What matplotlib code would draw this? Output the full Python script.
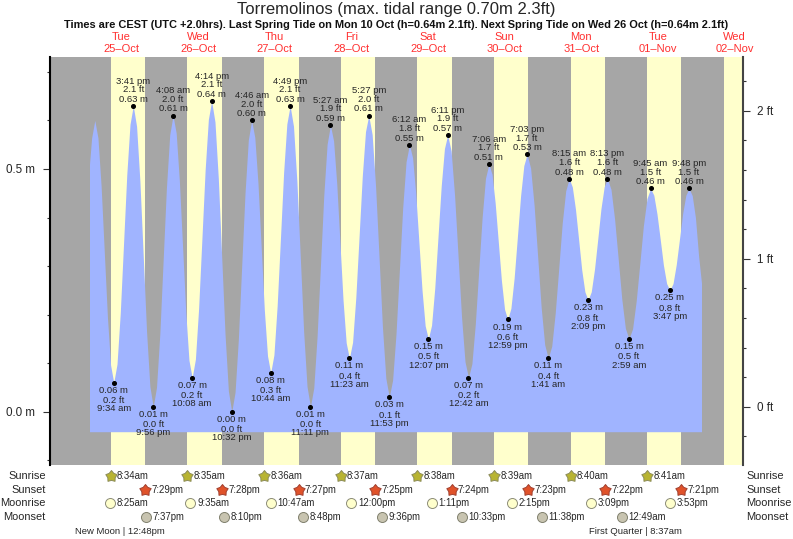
import matplotlib
matplotlib.use("Agg")
import matplotlib.pyplot as plt
from matplotlib.path import Path

plt.rcParams['font.family'] = ['Liberation Sans', 'DejaVu Sans']

# tide curve, hours since 25 Oct 00:00 and metres
tide_t = [1.97, 2.64, 3.63,
          4.62, 5.61, 6.60, 7.59, 8.58, 9.57,
          10.59, 11.61, 12.63, 13.65, 14.66, 15.68,
          16.72, 17.76, 18.81, 19.85, 20.89, 21.93,
          22.96, 24.0, 25.03, 26.06, 27.1, 28.13,
          29.13, 30.13, 31.13, 32.13, 33.13, 34.13,
          35.15, 36.16, 37.18, 38.2, 39.21, 40.23,
          41.28, 42.33, 43.38, 44.43, 45.48, 46.53,
          47.57, 48.61, 49.65, 50.69, 51.73, 52.77,
          53.76, 54.76, 55.75, 56.74, 57.74, 58.73,
          59.75, 60.76, 61.78, 62.79, 63.8, 64.82,
          65.88, 66.94, 68.0, 69.06, 70.12, 71.18,
          72.23, 73.27, 74.32, 75.36, 76.41, 77.45,
          78.44, 79.43, 80.42, 81.4, 82.39, 83.38,
          84.39, 85.4, 86.42, 87.43, 88.44, 89.45,
          90.52, 91.59, 92.67, 93.74, 94.81, 95.88,
          96.93, 97.99, 99.04, 100.09, 101.15, 102.2,
          103.19, 104.17, 105.16, 106.15, 107.13, 108.12,
          109.13, 110.14, 111.15, 112.16, 113.17, 114.18,
          115.27, 116.35, 117.44, 118.53, 119.61, 120.7,
          121.77, 122.83, 123.9, 124.97, 126.03, 127.1,
          128.08, 129.06, 130.04, 131.02, 132.0, 132.98,
          133.99, 135.0, 136.02, 137.03, 138.04, 139.05,
          140.16, 141.26, 142.37, 143.47, 144.58, 145.68,
          146.78, 147.87, 148.97, 150.06, 151.16, 152.25,
          153.23, 154.22, 155.2, 156.18, 157.17, 158.15,
          159.16, 160.17, 161.19, 162.2, 163.21, 164.22,
          165.35, 166.47, 167.6, 168.73, 169.85, 170.98,
          172.11, 173.24, 174.37, 175.49, 176.62, 177.75,
          178.76, 179.76, 180.77, 181.77, 182.78, 183.78,
          184.78, 185.79, 186.79, 187.79, 188.8, 189.8,
          190.8, 191.8, 192.8, 193.7]
tide_h = [0.51, 0.564, 0.60,
          0.564, 0.465, 0.33, 0.195, 0.096, 0.06,
          0.098, 0.203, 0.345, 0.488, 0.592, 0.63,
          0.588, 0.475, 0.32, 0.165, 0.052, 0.01,
          0.05, 0.16, 0.31, 0.46, 0.57, 0.61,
          0.574, 0.475, 0.34, 0.205, 0.106, 0.07,
          0.108, 0.213, 0.355, 0.498, 0.602, 0.64,
          0.597, 0.48, 0.32, 0.16, 0.043, 0.0,
          0.04, 0.15, 0.30, 0.45, 0.56, 0.60,
          0.565, 0.47, 0.34, 0.21, 0.115, 0.08,
          0.117, 0.218, 0.355, 0.493, 0.593, 0.63,
          0.588, 0.475, 0.32, 0.165, 0.052, 0.01,
          0.049, 0.155, 0.30, 0.445, 0.551, 0.59,
          0.558, 0.47, 0.35, 0.23, 0.142, 0.11,
          0.143, 0.235, 0.36, 0.485, 0.577, 0.61,
          0.571, 0.465, 0.32, 0.175, 0.069, 0.03,
          0.065, 0.16, 0.29, 0.42, 0.515, 0.55,
          0.523, 0.45, 0.35, 0.25, 0.177, 0.15,
          0.178, 0.255, 0.36, 0.465, 0.542, 0.57,
          0.537, 0.445, 0.32, 0.195, 0.103, 0.07,
          0.099, 0.18, 0.29, 0.40, 0.481, 0.51,
          0.489, 0.43, 0.35, 0.27, 0.211, 0.19,
          0.213, 0.275, 0.36, 0.445, 0.507, 0.53,
          0.502, 0.425, 0.32, 0.215, 0.138, 0.11,
          0.135, 0.203, 0.295, 0.388, 0.455, 0.48,
          0.463, 0.417, 0.355, 0.292, 0.247, 0.23,
          0.247, 0.293, 0.355, 0.418, 0.463, 0.48,
          0.458, 0.397, 0.315, 0.232, 0.172, 0.15,
          0.171, 0.228, 0.305, 0.383, 0.439, 0.46,
          0.446, 0.407, 0.355, 0.302, 0.264, 0.25,
          0.264, 0.303, 0.355, 0.408, 0.446, 0.46,
          0.445, 0.40, 0.32, 0.265]

# labelled highs and lows
ext_day = [0, 0, 0, 1, 1, 1, 1, 2, 2, 2, 2, 3, 3, 3, 3, 4, 4, 4, 5, 5, 5, 5, 6, 6, 6, 6, 7, 7, 7, 7]
ext_time = ['9:34 am', '3:41 pm', '9:56 pm', '4:08 am', '10:08 am', '4:14 pm', '10:32 pm',
            '4:46 am', '10:44 am', '4:49 pm', '11:11 pm', '5:27 am', '11:23 am', '5:27 pm', '11:53 pm',
            '6:12 am', '12:07 pm', '6:11 pm', '12:42 am', '7:06 am', '12:59 pm', '7:03 pm',
            '1:41 am', '8:15 am', '2:09 pm', '8:13 pm', '2:59 am', '9:45 am', '3:47 pm', '9:48 pm']
ext_m = [0.06, 0.63, 0.01, 0.61, 0.07, 0.64, 0.00, 0.60, 0.08, 0.63, 0.01, 0.59, 0.11, 0.61, 0.03,
         0.55, 0.15, 0.57, 0.07, 0.51, 0.19, 0.53, 0.11, 0.48, 0.23, 0.48, 0.15, 0.46, 0.25, 0.46]
ext_ft = [0.2, 2.1, 0.0, 2.0, 0.2, 2.1, 0.0, 2.0, 0.3, 2.1, 0.0, 1.9, 0.4, 2.0, 0.1,
          1.8, 0.5, 1.9, 0.2, 1.7, 0.6, 1.7, 0.4, 1.6, 0.8, 1.6, 0.5, 1.5, 0.8, 1.5]

day_names = ['Tue', 'Wed', 'Thu', 'Fri', 'Sat', 'Sun', 'Mon', 'Tue', 'Wed']
day_dates = ['25–Oct', '26–Oct', '27–Oct', '28–Oct', '29–Oct', '30–Oct', '31–Oct', '01–Nov', '02–Nov']

sunrise = ['8:34am', '8:35am', '8:36am', '8:37am', '8:38am', '8:39am', '8:40am', '8:41am']
sunset = ['7:29pm', '7:28pm', '7:27pm', '7:25pm', '7:24pm', '7:23pm', '7:22pm', '7:21pm']
moonrise = ['8:25am', '9:35am', '10:47am', '12:00pm', '1:11pm', '2:15pm', '3:09pm', '3:53pm']
moonset = ['7:37pm', '8:10pm', '8:48pm', '9:36pm', '10:33pm', '11:38pm', '12:49am']
moonset_day = [0, 1, 2, 3, 4, 5, 7]

GREY = '#a6a6a6'
YELLOW = '#ffffcc'
BLUE = '#a0b4ff'
RED = '#ff3030'
TXT = '#262626'


def hours(day, stamp):
    # '3:41 pm' -> hours since 25 Oct 00:00
    stamp = stamp.replace(' ', '')
    h, m = stamp[:-2].split(':')
    h = int(h) % 12
    if stamp.endswith('pm'):
        h += 12
    return day * 24 + h + int(m) / 60


W, H = 793, 539
fig = plt.figure(figsize=(W / 100, H / 100), dpi=100)
ax = fig.add_axes([49.5 / W, 1 - 465.3 / H, (743 - 49.5) / W, (465.3 - 56.7) / H])
ax.set_xlim(-10.56, 206.7)
ax.set_ylim(-0.1104, 0.7313)
ax.set_facecolor(GREY)

# daylight bands, the last one runs off the edge
for i in range(8):
    ax.axvspan(hours(i, sunrise[i]), hours(i, sunset[i]), color=YELLOW, lw=0, zorder=1)
ax.axvspan(hours(8, '8:42am'), 206.7, color=YELLOW, lw=0, zorder=1)

ax.fill_between(tide_t, tide_h, -0.0412, color=BLUE, lw=0, zorder=2)

for d, t, m, ft in zip(ext_day, ext_time, ext_m, ext_ft):
    x = hours(d, t)
    ax.plot(x, m, 'o', color='black', ms=2.6, zorder=4)
    # highs carry the label above the dot, lows below it
    if m > 0.3:
        rows = [(t, 17.8), (f'{ft:.1f} ft', 11.8), (f'{m:.2f} m', 4.8)]
    else:
        rows = [(f'{m:.2f} m', -5.5), (f'{ft:.1f} ft', -13), (t, -18.8)]
    for s, dy in rows:
        ax.annotate(s, (x, m), xytext=(0, dy), textcoords='offset points', ha='center', va='center',
                    fontsize=6.8, color=TXT, zorder=5, annotation_clip=False)

ax.set_xticks([])
ax.set_yticks([0.0, 0.5])
ax.set_yticklabels(['0.0 m', '0.5 m'], fontsize=8.4, color=TXT)
ax.set_yticks([-0.1, 0.1, 0.2, 0.3, 0.4, 0.6, 0.7], minor=True)
ax.tick_params(axis='y', which='major', length=5, width=0.8, pad=5.5, color='#333333')
ax.tick_params(axis='y', which='minor', length=2.4, width=0.8, color='#333333')
for side in ['top', 'bottom']:
    ax.spines[side].set_visible(False)
ax.spines['left'].set_linewidth(1.5)
ax.spines['right'].set_visible(False)

ax2 = ax.twinx()
ax2.set_ylim((406.7 - 465.3) / 148, (406.7 - 56.7) / 148)
ax2.set_yticks([0, 1, 2])
ax2.set_yticklabels(['0 ft', '1 ft', '2 ft'], fontsize=8.4, color=TXT)
ax2.set_yticks([-0.2, 0.2, 0.4, 0.6, 0.8, 1.2, 1.4, 1.6, 1.8, 2.2], minor=True)
ax2.tick_params(axis='y', which='major', length=5, width=0.8, pad=5, color='#333333')
ax2.tick_params(axis='y', which='minor', length=2.4, width=0.8, color='#333333')
for side in ['top', 'bottom', 'left']:
    ax2.spines[side].set_visible(False)
ax2.spines['right'].set_linewidth(1.5)
ax2.spines['right'].set_color('#444444')

fig.text(396.5 / W, 1 - 9.5 / H, 'Torremolinos (max. tidal range 0.70m 2.3ft)', fontsize=12,
         ha='center', va='center', color=TXT)
fig.text(396 / W, 1 - 25 / H,
         'Times are CEST (UTC +2.0hrs). Last Spring Tide on Mon 10 Oct (h=0.64m 2.1ft). '
         'Next Spring Tide on Wed 26 Oct (h=0.64m 2.1ft)',
         fontsize=7.9, fontweight='bold', ha='center', va='center', color='#111111')

trans = ax.get_xaxis_transform()


def below(px):
    # pixel row in the picture -> axes fraction
    return (465.3 - px) / (465.3 - 56.7)


for i in range(9):
    ax.text(i * 24 + 12, below(37.5), day_names[i], transform=trans, ha='center', va='center',
            fontsize=8, color=RED, clip_on=False)
    ax.text(i * 24 + 12, below(49), day_dates[i], transform=trans, ha='center', va='center',
            fontsize=8, color=RED, clip_on=False)

star = Path.unit_regular_star(5, 0.65)
row_y = [476, 490, 503, 517]
row_names = ['Sunrise', 'Sunset', 'Moonrise', 'Moonset']
for px, name in zip(row_y, row_names):
    fig.text(45.7 / W, 1 - px / H, name, fontsize=7.9, ha='right', va='center', color=TXT)
    fig.text(746.5 / W, 1 - px / H, name, fontsize=7.9, ha='left', va='center', color=TXT)


def mark_row(days, stamps, px, marker, size, face, edge, gap):
    for d, s in zip(days, stamps):
        x = hours(d, s)
        ax.plot(x, below(px), marker=marker, ms=size, mfc=face, mec=edge, mew=0.7,
                transform=trans, clip_on=False, zorder=6)
        ax.annotate(s, (x, below(px)), xycoords=trans, xytext=(gap, 0), textcoords='offset points',
                    ha='left', va='center', fontsize=6.9, color=TXT, annotation_clip=False)


mark_row(range(8), sunrise, 476, star, 8.6, '#b8b432', '#8c8c5a', 4.6)
mark_row(range(8), sunset, 490, star, 8.6, '#e0522a', '#a04030', 4.6)
mark_row(range(8), moonrise, 503, 'o', 7.2, '#ffffcc', '#8c8c78', 4.8)
mark_row(moonset_day, moonset, 517, 'o', 7.2, '#c8c4b0', '#80806e', 4.8)

fig.text(120 / W, 1 - 531 / H, 'New Moon | 12:48pm', fontsize=6.8, ha='center', va='center', color=TXT)
fig.text(635.5 / W, 1 - 531 / H, 'First Quarter | 8:37am', fontsize=6.8, ha='center', va='center', color=TXT)

fig.savefig('out.png', dpi=100)
plt.close('all')
